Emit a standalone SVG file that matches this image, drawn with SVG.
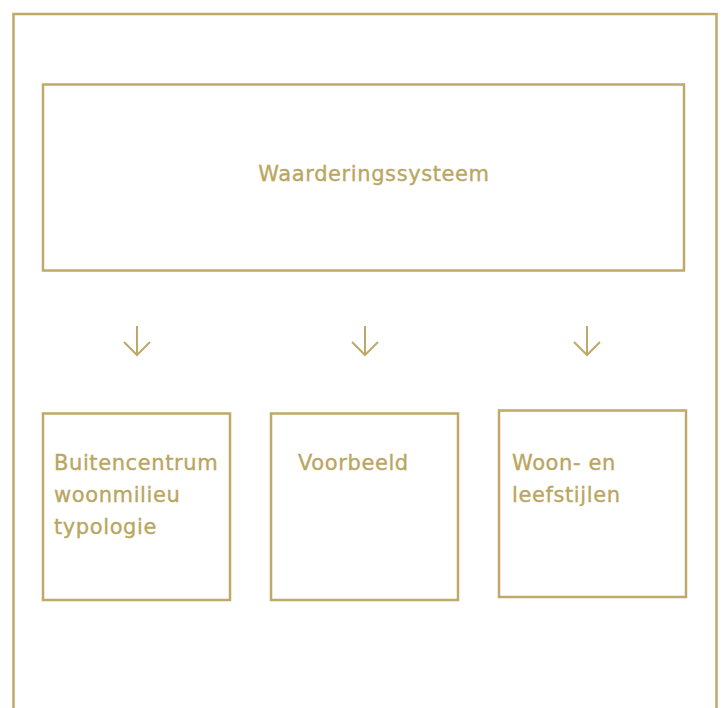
<svg xmlns="http://www.w3.org/2000/svg" width="723" height="708" viewBox="0 0 723 708">
<style>
.box{fill:none;stroke:#bfa96a;stroke-width:2.5}
.t{font-family:"DejaVu Sans",sans-serif;font-size:21px;fill:#b9a661;letter-spacing:0.6px;stroke:#b9a661;stroke-width:0.35}
.arr{fill:none;stroke:#bfa96a;stroke-width:2}
</style>
<rect width="723" height="708" fill="#fff"/>
<path class="box" d="M13.5,710 V14 H716.5 V710"/>
<g id="top"><rect class="box" x="43" y="84.5" width="641" height="186"/><text class="t" x="374" y="181" text-anchor="middle">Waarderingssysteem</text></g>
<g id="n1"><rect class="box" x="43" y="413.5" width="187" height="186.5"/><text class="t" x="54" y="470">Buitencentrum</text><text class="t" x="54" y="502">woonmilieu</text><text class="t" x="54" y="534">typologie</text></g>
<g id="n2"><rect class="box" x="271" y="413.5" width="187" height="186.5"/><text class="t" x="298" y="470">Voorbeeld</text></g>
<g id="n3"><rect class="box" x="499" y="410.5" width="187" height="186.5"/><text class="t" x="512" y="470">Woon- en</text><text class="t" x="512" y="502">leefstijlen</text></g>
<g id="connectors">
<path class="arr" d="M137,326 V355 M124,342 L137,355 L150,342"/>
<path class="arr" d="M365,326 V355 M352,342 L365,355 L378,342"/>
<path class="arr" d="M587,326 V355 M574,342 L587,355 L600,342"/>
</g>
</svg>
